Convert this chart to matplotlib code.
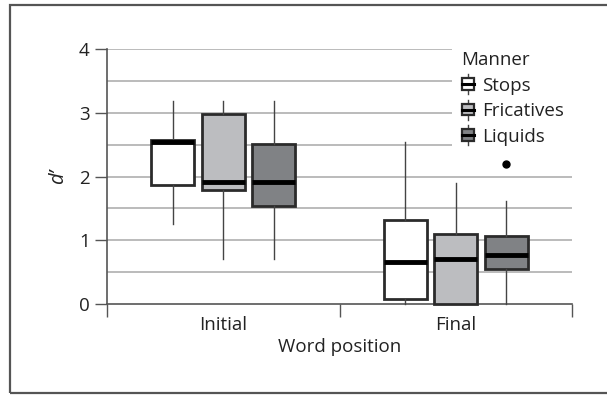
import matplotlib.pyplot as plt
from matplotlib.legend_handler import HandlerBase
from matplotlib.lines import Line2D
from matplotlib.patches import Rectangle

plt.rcParams["font.family"] = ["Open Sans", "DejaVu Sans"]

# d' per manner class, summarised as box stats at each word position
positions = ["Initial", "Final"]
manners = ["Stops", "Fricatives", "Liquids"]
fills = ["#ffffff", "#bcbdc0", "#808285"]

whislo = [[1.25, 0.70, 0.70], [0.00, 0.00, 0.00]]
q1 = [[1.86, 1.79, 1.54], [0.07, 0.00, 0.55]]
med = [[2.55, 1.91, 1.92], [0.655, 0.70, 0.76]]
q3 = [[2.57, 2.99, 2.51], [1.31, 1.09, 1.07]]
whishi = [[3.19, 3.19, 3.18], [2.55, 1.90, 1.62]]
fliers = [[[], [], []], [[], [], [2.19]]]

EDGE = "#2b2b2b"
WHISK = "#444444"
GRID = "#a8a8a8"
TXT = "#222222"
FS = 13.5


class BoxHandler(HandlerBase):
    """Tiny boxplot glyph for the legend."""

    def create_artists(self, legend, orig_handle, xdescent, ydescent,
                       width, height, fontsize, trans):
        fc = orig_handle.get_facecolor()
        cx = -xdescent + width / 2
        bw = width * 0.85
        bh = height * 0.85
        y0 = -ydescent + (height - bh) / 2
        whisk = Line2D([cx, cx], [y0 - 3, y0 + bh + 3], color=WHISK, lw=1,
                       transform=trans)
        box = Rectangle((cx - bw / 2, y0), bw, bh, facecolor=fc,
                        edgecolor=EDGE, lw=1.6, transform=trans)
        mid = Line2D([cx - bw / 2, cx + bw / 2], [y0 + bh / 2] * 2,
                     color="black", lw=2.2, transform=trans)
        return [whisk, box, mid]


fig = plt.figure(figsize=(6.07, 3.95), dpi=100)
ax = fig.add_axes([107 / 607, 91.3 / 395, 465 / 607, 254.4 / 395])

# outer frame around the whole figure
fig.patches.append(Rectangle((10 / 607, 2 / 395), 1.1, 388.5 / 395,
                             transform=fig.transFigure, fill=False,
                             edgecolor="#555555", lw=1.6, zorder=0))

offsets = [-0.217, 0.0, 0.217]
box_w = 0.185
for gi in range(len(positions)):
    for mi in range(len(manners)):
        stats = [{
            "whislo": whislo[gi][mi], "q1": q1[gi][mi], "med": med[gi][mi],
            "q3": q3[gi][mi], "whishi": whishi[gi][mi],
            "fliers": fliers[gi][mi],
        }]
        ax.bxp(stats, positions=[gi + offsets[mi]], widths=box_w,
               patch_artist=True, showcaps=False, manage_ticks=False,
               boxprops=dict(facecolor=fills[mi], edgecolor=EDGE, lw=2),
               whiskerprops=dict(color=WHISK, lw=1),
               medianprops=dict(color="black", lw=3.5),
               flierprops=dict(marker="o", markerfacecolor="black",
                               markeredgecolor="black", markersize=5),
               zorder=3)

for art in ax.patches + ax.lines:
    art.set_clip_on(False)

ax.set_xlim(-0.5, 1.5)
ax.set_ylim(0, 4)

for v in [0.5, 1, 1.5, 2, 2.5, 3, 3.5, 4]:
    ax.axhline(v, color=GRID, lw=1.1, zorder=1)

ax.set_yticks([0, 1, 2, 3, 4])
ax.set_xticks([-0.5, 0.5, 1.5])
ax.set_xticklabels([])
ax.set_xticks([0, 1], minor=True)
ax.set_xticklabels(positions, minor=True)
ax.tick_params(axis="both", which="major", length=9, width=1,
               color="#555555", labelsize=FS, labelcolor=TXT)
ax.tick_params(axis="x", which="minor", length=0, pad=9,
               labelsize=FS, labelcolor=TXT)

for side in ["top", "right"]:
    ax.spines[side].set_visible(False)
for side in ["left", "bottom"]:
    ax.spines[side].set_color("#555555")
    ax.spines[side].set_linewidth(1.2)

ax.set_xlabel("Word position", fontsize=FS, color=TXT, labelpad=3)
ax.set_ylabel("d’", fontsize=FS + 1, style="italic", color=TXT, labelpad=8)

handles = [Rectangle((0, 0), 1, 1, facecolor=c) for c in fills]
leg = ax.legend(handles, manners, title="Manner", loc="upper left",
                bbox_to_anchor=(0.742, 1.03, 0.258, 0), mode="expand",
                frameon=True, fancybox=False,
                framealpha=1, edgecolor="none", facecolor="white",
                fontsize=FS, title_fontsize=FS, alignment="left",
                handler_map={Rectangle: BoxHandler()},
                handlelength=0.75, handleheight=0.75, handletextpad=0.35,
                labelspacing=0.4, borderpad=0.5, borderaxespad=0)
leg.get_title().set_color(TXT)
for t in leg.get_texts():
    t.set_color(TXT)
leg.set_zorder(5)

fig.savefig("out.png", dpi=100)
